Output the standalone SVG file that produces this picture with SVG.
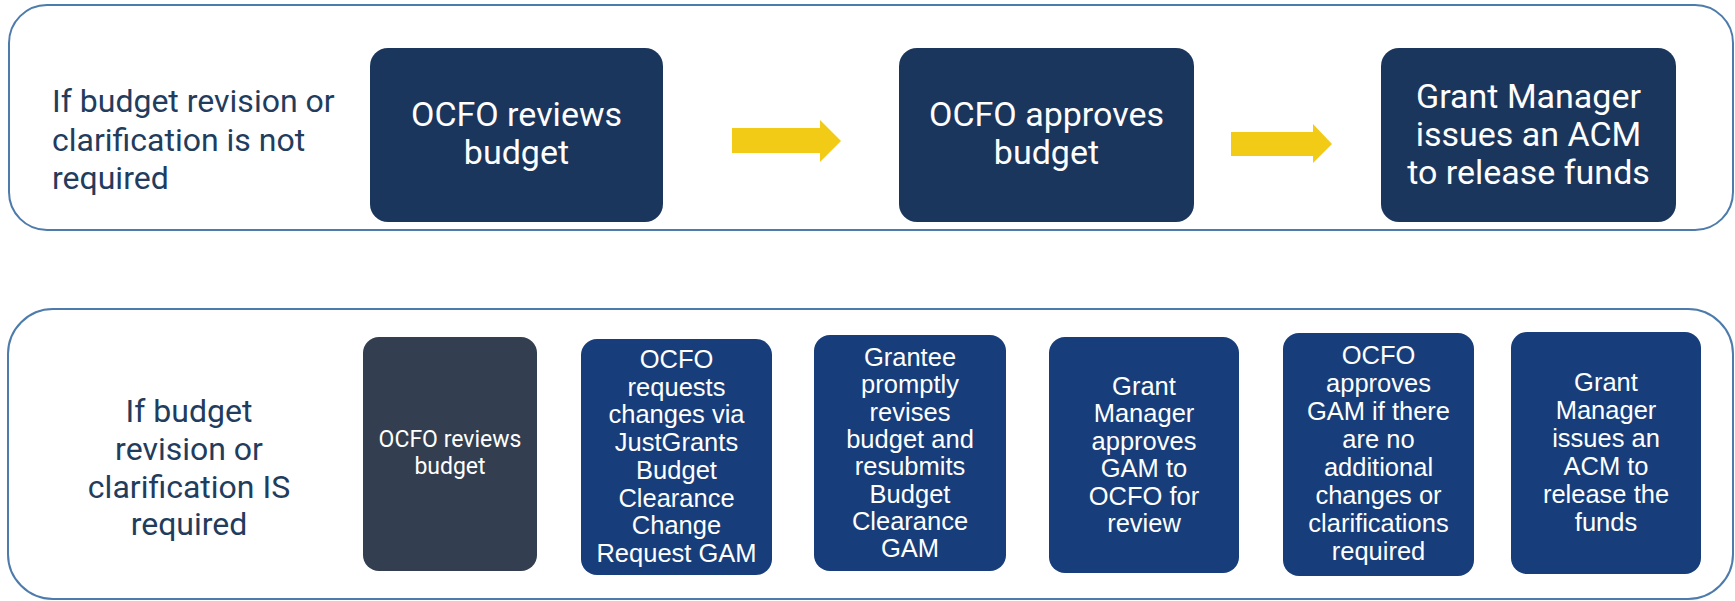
<svg xmlns="http://www.w3.org/2000/svg" width="1735" height="601" viewBox="0 0 1735 601">
  <style>
    .panel { fill: #ffffff; stroke: #4d7bab; stroke-width: 2; }
    .label { font-family: Roboto, "Liberation Sans", sans-serif; font-size: 32px; fill: #223c5e; }
    .top-box { fill: #1b365d; }
    .top-text { font-family: Roboto, "Liberation Sans", sans-serif; font-size: 34px; fill: #ffffff; text-anchor: middle; }
    .gray-box { fill: #333f50; }
    .gray-text { font-family: Roboto, "Liberation Sans", sans-serif; font-size: 23px; fill: #ffffff; text-anchor: middle; }
    .blue-box { fill: #173e7a; }
    .blue-text { font-family: "Liberation Sans", Arial, sans-serif; font-size: 25.5px; fill: #ffffff; text-anchor: middle; }
    .arrow { fill: #f2cb17; }
  </style>

  <!-- Lane frames -->
  <rect id="lane-not-required" class="panel" x="9" y="5" width="1724" height="225" rx="38" ry="38"/>
  <rect id="lane-required" class="panel" x="8" y="309" width="1725" height="290" rx="45" ry="45"/>

  <!-- Lane labels -->
  <g id="label-not-required">
    <text class="label" x="52" y="112">If budget revision or</text>
    <text class="label" x="52" y="151">clarification is not</text>
    <text class="label" x="52" y="189">required</text>
  </g>
  <g id="label-required">
    <text class="label" x="189" y="422" text-anchor="middle">If budget</text>
    <text class="label" x="189" y="460" text-anchor="middle">revision or</text>
    <text class="label" x="189" y="497.5" text-anchor="middle">clarification IS</text>
    <text class="label" x="189" y="535" text-anchor="middle">required</text>
  </g>

  <!-- Upper flow -->
  <g id="top-reviews">
    <rect class="top-box" x="370" y="48" width="293" height="174" rx="18"/>
    <text class="top-text" x="516.5" y="126">OCFO reviews</text>
    <text class="top-text" x="516.5" y="163.5">budget</text>
  </g>
  <g id="top-approves">
    <rect class="top-box" x="899" y="48" width="295" height="174" rx="18"/>
    <text class="top-text" x="1046.5" y="126">OCFO approves</text>
    <text class="top-text" x="1046.5" y="163.5">budget</text>
  </g>
  <g id="top-issues">
    <rect class="top-box" x="1381" y="48" width="295" height="174" rx="18"/>
    <text class="top-text" x="1528.5" y="108">Grant Manager</text>
    <text class="top-text" x="1528.5" y="146">issues an ACM</text>
    <text class="top-text" x="1528.5" y="183.5">to release funds</text>
  </g>

  <!-- Lower flow -->
  <g id="step-reviews">
    <rect class="gray-box" x="363" y="337" width="174" height="234" rx="16"/>
    <text class="gray-text" x="450" y="447">OCFO reviews</text>
    <text class="gray-text" x="450" y="474">budget</text>
  </g>
  <g id="step-requests">
    <rect class="blue-box" x="581" y="339" width="191" height="236" rx="16"/>
    <text class="blue-text" x="676.5" y="368">OCFO</text>
    <text class="blue-text" x="676.5" y="395.7">requests</text>
    <text class="blue-text" x="676.5" y="423.4">changes via</text>
    <text class="blue-text" x="676.5" y="451.1">JustGrants</text>
    <text class="blue-text" x="676.5" y="478.8">Budget</text>
    <text class="blue-text" x="676.5" y="506.5">Clearance</text>
    <text class="blue-text" x="676.5" y="534.2">Change</text>
    <text class="blue-text" x="676.5" y="562">Request GAM</text>
  </g>
  <g id="step-resubmits">
    <rect class="blue-box" x="814" y="335" width="192" height="236" rx="16"/>
    <text class="blue-text" x="910" y="366">Grantee</text>
    <text class="blue-text" x="910" y="393.3">promptly</text>
    <text class="blue-text" x="910" y="420.6">revises</text>
    <text class="blue-text" x="910" y="447.9">budget and</text>
    <text class="blue-text" x="910" y="475.2">resubmits</text>
    <text class="blue-text" x="910" y="502.5">Budget</text>
    <text class="blue-text" x="910" y="529.8">Clearance</text>
    <text class="blue-text" x="910" y="557">GAM</text>
  </g>
  <g id="step-gm-approves">
    <rect class="blue-box" x="1049" y="337" width="190" height="236" rx="16"/>
    <text class="blue-text" x="1144" y="395">Grant</text>
    <text class="blue-text" x="1144" y="422.4">Manager</text>
    <text class="blue-text" x="1144" y="449.8">approves</text>
    <text class="blue-text" x="1144" y="477.2">GAM to</text>
    <text class="blue-text" x="1144" y="504.6">OCFO for</text>
    <text class="blue-text" x="1144" y="532">review</text>
  </g>
  <g id="step-ocfo-approves">
    <rect class="blue-box" x="1283" y="333" width="191" height="243" rx="16"/>
    <text class="blue-text" x="1378.5" y="364">OCFO</text>
    <text class="blue-text" x="1378.5" y="392">approves</text>
    <text class="blue-text" x="1378.5" y="420">GAM if there</text>
    <text class="blue-text" x="1378.5" y="448">are no</text>
    <text class="blue-text" x="1378.5" y="476">additional</text>
    <text class="blue-text" x="1378.5" y="504">changes or</text>
    <text class="blue-text" x="1378.5" y="532">clarifications</text>
    <text class="blue-text" x="1378.5" y="560">required</text>
  </g>
  <g id="step-release">
    <rect class="blue-box" x="1511" y="332" width="190" height="242" rx="16"/>
    <text class="blue-text" x="1606" y="391">Grant</text>
    <text class="blue-text" x="1606" y="419">Manager</text>
    <text class="blue-text" x="1606" y="447">issues an</text>
    <text class="blue-text" x="1606" y="475">ACM to</text>
    <text class="blue-text" x="1606" y="503">release the</text>
    <text class="blue-text" x="1606" y="531">funds</text>
  </g>

  <!-- Connectors -->
  <g id="connectors">
    <polygon class="arrow" points="732,128 820,128 820,120 841,141 820,162 820,153 732,153"/>
    <polygon class="arrow" points="1231,132 1313,132 1313,124 1332,144 1313,163 1313,156 1231,156"/>
  </g>
</svg>
